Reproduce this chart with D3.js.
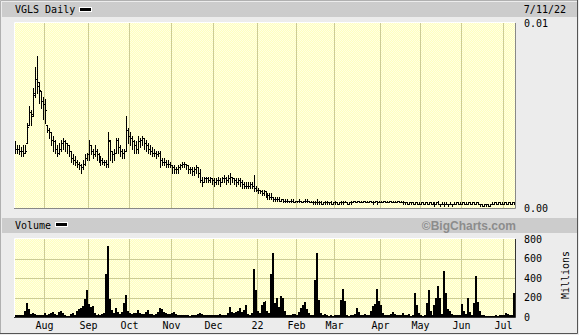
<!DOCTYPE html>
<html>
<head>
<meta charset="utf-8">
<title>VGLS Daily</title>
<script src="https://d3js.org/d3.v7.min.js"></script>
<style>
  body { margin: 0; background: #ffffff; }
  svg { display: block; font-family: "DejaVu Sans Mono", monospace; font-size: 10px; }
</style>
</head>
<body>
<svg id="chart" width="579" height="335"></svg>
<script>
// daily bars, dollars
var opens = [
  0.0031,0.0032,0.0032,0.0031,0.0031,0.0030,0.0035,0.0045,0.0052,0.0051,0.0062,0.0070,
  0.0066,0.0063,0.0058,0.0056,0.0045,0.0042,0.0041,0.0037,0.0036,0.0032,0.0030,0.0032,
  0.0035,0.0036,0.0035,0.0034,0.0031,0.0027,0.0026,0.0025,0.0024,0.0023,0.0022,0.0024,
  0.0027,0.0029,0.0034,0.0031,0.0029,0.0031,0.0029,0.0027,0.0026,0.0025,0.0025,0.0024,
  0.0036,0.0031,0.0029,0.0030,0.0037,0.0033,0.0031,0.0030,0.0031,0.0042,0.0039,0.0038,
  0.0036,0.0034,0.0032,0.0036,0.0037,0.0038,0.0035,0.0034,0.0032,0.0031,0.0030,0.0030,
  0.0029,0.0030,0.0026,0.0025,0.0025,0.0024,0.0024,0.0023,0.0022,0.0021,0.0021,0.0022,
  0.0023,0.0024,0.0024,0.0023,0.0021,0.0021,0.0020,0.0021,0.0022,0.0019,0.0015,0.0014,
  0.0016,0.0016,0.0015,0.0016,0.0015,0.0014,0.0015,0.0015,0.0014,0.0016,0.0016,0.0015,
  0.0016,0.0017,0.0016,0.0015,0.0014,0.0015,0.0014,0.0013,0.0012,0.0012,0.0012,0.0013,
  0.0012,0.0011,0.0010,0.0010,0.0009,0.0008,0.0009,0.0008,0.0007,0.0006,0.0006,0.0005,
  0.0005,0.0005,0.0004,0.0005,0.0004,0.0004,0.0004,0.0004,0.0004,0.0003,0.0004,0.0004,
  0.0004,0.0003,0.0004,0.0004,0.0004,0.0003,0.0003,0.0003,0.0003,0.0003,0.0003,0.0002,
  0.0003,0.0003,0.0003,0.0003,0.0002,0.0003,0.0003,0.0002,0.0003,0.0003,0.0003,0.0003,
  0.0002,0.0003,0.0003,0.0004,0.0003,0.0004,0.0003,0.0003,0.0004,0.0003,0.0003,0.0004,
  0.0003,0.0003,0.0004,0.0003,0.0003,0.0003,0.0004,0.0003,0.0003,0.0004,0.0003,0.0003,
  0.0003,0.0004,0.0003,0.0003,0.0003,0.0003,0.0002,0.0003,0.0003,0.0002,0.0003,0.0002,
  0.0002,0.0003,0.0002,0.0003,0.0002,0.0003,0.0002,0.0002,0.0002,0.0003,0.0002,0.0002,
  0.0002,0.0002,0.0002,0.0002,0.0002,0.0002,0.0002,0.0003,0.0002,0.0002,0.0003,0.0002,
  0.0002,0.0003,0.0002,0.0003,0.0002,0.0003,0.0002,0.0002,0.0001,0.0002,0.0002,0.0001,
  0.0002,0.0002,0.0003,0.0002,0.0003,0.0002,0.0002,0.0003,0.0002,0.0003,0.0002,0.0003
];
var highs = [
  0.0036,0.0034,0.0034,0.0033,0.0034,0.0034,0.0046,0.0055,0.0053,0.0065,0.0076,0.0082,
  0.0068,0.0063,0.0060,0.0059,0.0045,0.0043,0.0041,0.0039,0.0037,0.0034,0.0035,0.0037,
  0.0038,0.0037,0.0035,0.0034,0.0031,0.0029,0.0028,0.0026,0.0025,0.0024,0.0026,0.0029,
  0.0030,0.0037,0.0034,0.0032,0.0034,0.0032,0.0030,0.0028,0.0027,0.0026,0.0026,0.0041,
  0.0037,0.0031,0.0032,0.0038,0.0038,0.0034,0.0032,0.0032,0.0050,0.0043,0.0041,0.0039,
  0.0037,0.0036,0.0039,0.0038,0.0039,0.0038,0.0037,0.0035,0.0034,0.0033,0.0032,0.0031,
  0.0031,0.0031,0.0027,0.0027,0.0026,0.0026,0.0025,0.0023,0.0023,0.0022,0.0023,0.0024,
  0.0025,0.0025,0.0024,0.0023,0.0022,0.0022,0.0022,0.0023,0.0022,0.0021,0.0017,0.0017,
  0.0017,0.0017,0.0017,0.0016,0.0016,0.0016,0.0017,0.0016,0.0017,0.0018,0.0017,0.0018,
  0.0019,0.0017,0.0016,0.0016,0.0016,0.0016,0.0015,0.0014,0.0014,0.0014,0.0014,0.0014,
  0.0018,0.0012,0.0011,0.0010,0.0010,0.0010,0.0009,0.0008,0.0008,0.0008,0.0006,0.0006,
  0.0006,0.0006,0.0005,0.0005,0.0005,0.0005,0.0004,0.0005,0.0005,0.0004,0.0004,0.0005,
  0.0004,0.0004,0.0005,0.0005,0.0004,0.0004,0.0004,0.0004,0.0005,0.0004,0.0004,0.0003,
  0.0004,0.0004,0.0003,0.0004,0.0003,0.0004,0.0003,0.0003,0.0004,0.0004,0.0004,0.0003,
  0.0003,0.0004,0.0004,0.0004,0.0004,0.0004,0.0004,0.0004,0.0004,0.0004,0.0004,0.0004,
  0.0004,0.0004,0.0004,0.0004,0.0004,0.0004,0.0004,0.0004,0.0004,0.0004,0.0004,0.0004,
  0.0004,0.0004,0.0004,0.0004,0.0003,0.0003,0.0003,0.0003,0.0003,0.0003,0.0003,0.0003,
  0.0003,0.0003,0.0003,0.0003,0.0003,0.0003,0.0003,0.0003,0.0003,0.0004,0.0002,0.0003,
  0.0003,0.0003,0.0002,0.0003,0.0002,0.0003,0.0003,0.0003,0.0003,0.0003,0.0003,0.0003,
  0.0003,0.0003,0.0003,0.0003,0.0003,0.0003,0.0002,0.0002,0.0002,0.0002,0.0002,0.0002,
  0.0003,0.0003,0.0003,0.0003,0.0003,0.0003,0.0003,0.0003,0.0003,0.0003,0.0003,0.0003
];
var lows = [
  0.0030,0.0030,0.0029,0.0028,0.0028,0.0030,0.0035,0.0045,0.0045,0.0050,0.0060,0.0062,
  0.0057,0.0054,0.0048,0.0046,0.0041,0.0038,0.0034,0.0031,0.0030,0.0028,0.0029,0.0031,
  0.0032,0.0031,0.0030,0.0028,0.0025,0.0024,0.0023,0.0022,0.0021,0.0019,0.0021,0.0023,
  0.0026,0.0026,0.0029,0.0027,0.0028,0.0026,0.0025,0.0023,0.0024,0.0023,0.0022,0.0022,
  0.0026,0.0025,0.0026,0.0030,0.0030,0.0028,0.0027,0.0027,0.0031,0.0035,0.0034,0.0032,
  0.0030,0.0030,0.0030,0.0033,0.0034,0.0032,0.0031,0.0030,0.0029,0.0028,0.0028,0.0027,
  0.0028,0.0022,0.0023,0.0023,0.0022,0.0022,0.0022,0.0019,0.0019,0.0019,0.0019,0.0021,
  0.0022,0.0022,0.0021,0.0019,0.0019,0.0018,0.0018,0.0019,0.0017,0.0014,0.0012,0.0014,
  0.0014,0.0014,0.0014,0.0013,0.0012,0.0013,0.0013,0.0012,0.0014,0.0014,0.0013,0.0014,
  0.0013,0.0014,0.0013,0.0012,0.0013,0.0012,0.0011,0.0011,0.0011,0.0011,0.0011,0.0011,
  0.0009,0.0009,0.0008,0.0008,0.0007,0.0007,0.0006,0.0005,0.0005,0.0005,0.0004,0.0004,
  0.0004,0.0004,0.0004,0.0003,0.0003,0.0003,0.0003,0.0003,0.0003,0.0003,0.0003,0.0003,
  0.0003,0.0003,0.0003,0.0003,0.0003,0.0003,0.0002,0.0002,0.0002,0.0002,0.0002,0.0002,
  0.0002,0.0002,0.0002,0.0002,0.0002,0.0002,0.0002,0.0002,0.0002,0.0002,0.0003,0.0002,
  0.0002,0.0002,0.0003,0.0003,0.0003,0.0003,0.0003,0.0003,0.0003,0.0003,0.0003,0.0003,
  0.0002,0.0003,0.0002,0.0003,0.0003,0.0003,0.0003,0.0003,0.0003,0.0003,0.0003,0.0003,
  0.0003,0.0003,0.0003,0.0002,0.0002,0.0002,0.0002,0.0002,0.0002,0.0002,0.0002,0.0002,
  0.0002,0.0002,0.0002,0.0002,0.0002,0.0002,0.0002,0.0001,0.0002,0.0002,0.0001,0.0002,
  0.0001,0.0002,0.0001,0.0002,0.0001,0.0002,0.0002,0.0002,0.0002,0.0002,0.0002,0.0002,
  0.0002,0.0002,0.0002,0.0002,0.0002,0.0002,0.0001,0.0001,0.0001,0.0001,0.0001,0.0001,
  0.0002,0.0002,0.0002,0.0002,0.0002,0.0002,0.0002,0.0002,0.0002,0.0002,0.0002,0.0002
];
var closes = [
  0.0032,0.0032,0.0031,0.0031,0.0030,0.0031,0.0044,0.0052,0.0050,0.0061,0.0070,0.0068,
  0.0064,0.0058,0.0056,0.0053,0.0042,0.0041,0.0037,0.0036,0.0032,0.0030,0.0032,0.0035,
  0.0036,0.0035,0.0034,0.0031,0.0027,0.0026,0.0025,0.0024,0.0023,0.0022,0.0024,0.0027,
  0.0029,0.0034,0.0031,0.0029,0.0031,0.0029,0.0027,0.0026,0.0025,0.0025,0.0024,0.0037,
  0.0031,0.0029,0.0030,0.0037,0.0033,0.0031,0.0030,0.0031,0.0042,0.0039,0.0038,0.0036,
  0.0034,0.0032,0.0036,0.0037,0.0038,0.0035,0.0034,0.0032,0.0031,0.0030,0.0030,0.0029,
  0.0030,0.0026,0.0025,0.0025,0.0024,0.0024,0.0023,0.0022,0.0021,0.0021,0.0022,0.0023,
  0.0024,0.0024,0.0023,0.0021,0.0021,0.0020,0.0021,0.0022,0.0019,0.0015,0.0014,0.0016,
  0.0016,0.0015,0.0016,0.0015,0.0014,0.0015,0.0015,0.0014,0.0016,0.0016,0.0015,0.0016,
  0.0017,0.0016,0.0015,0.0014,0.0015,0.0014,0.0013,0.0012,0.0012,0.0012,0.0013,0.0012,
  0.0011,0.0010,0.0010,0.0009,0.0008,0.0009,0.0008,0.0007,0.0006,0.0006,0.0005,0.0005,
  0.0005,0.0004,0.0005,0.0004,0.0004,0.0004,0.0004,0.0004,0.0003,0.0004,0.0004,0.0004,
  0.0003,0.0004,0.0004,0.0004,0.0003,0.0003,0.0003,0.0003,0.0003,0.0003,0.0002,0.0003,
  0.0003,0.0003,0.0003,0.0002,0.0003,0.0003,0.0002,0.0003,0.0003,0.0003,0.0003,0.0002,
  0.0003,0.0003,0.0004,0.0003,0.0004,0.0003,0.0003,0.0004,0.0003,0.0003,0.0004,0.0003,
  0.0003,0.0004,0.0003,0.0003,0.0003,0.0004,0.0003,0.0003,0.0004,0.0003,0.0003,0.0003,
  0.0004,0.0003,0.0003,0.0003,0.0003,0.0002,0.0003,0.0003,0.0002,0.0003,0.0002,0.0002,
  0.0003,0.0002,0.0003,0.0002,0.0003,0.0002,0.0002,0.0002,0.0003,0.0002,0.0002,0.0002,
  0.0002,0.0002,0.0002,0.0002,0.0002,0.0002,0.0003,0.0002,0.0002,0.0003,0.0002,0.0002,
  0.0003,0.0002,0.0003,0.0002,0.0003,0.0002,0.0002,0.0001,0.0002,0.0002,0.0001,0.0002,
  0.0002,0.0003,0.0002,0.0003,0.0002,0.0002,0.0003,0.0002,0.0003,0.0002,0.0003,0.0003
];
// volume, millions of shares
var volumes = [
  22,20,18,22,25,60,147,80,35,38,30,25,
  25,22,25,45,22,30,40,55,35,25,50,65,
  40,22,15,12,30,45,25,60,80,90,115,185,
  277,130,100,115,40,25,30,22,30,40,440,730,
  180,70,40,90,50,35,55,145,225,60,45,35,
  40,45,75,40,30,35,50,70,35,30,25,35,
  50,90,80,50,45,35,30,45,48,30,22,25,
  20,22,18,20,15,20,25,22,30,45,30,22,
  20,25,22,18,22,20,25,30,22,20,25,40,
  100,55,45,50,60,90,55,70,125,30,25,40,
  490,280,60,45,120,150,165,60,40,445,660,145,
  195,100,215,200,60,25,20,22,35,30,20,50,
  90,120,157,80,40,22,20,380,660,175,40,25,
  30,20,15,20,15,22,18,20,175,287,160,25,
  15,20,22,30,90,50,25,22,30,20,25,60,
  110,130,287,160,120,40,25,20,22,30,55,35,
  22,20,25,40,22,20,30,15,22,245,120,40,
  20,15,22,145,277,60,22,120,200,320,200,30,
  470,245,80,60,30,20,25,22,20,135,60,30,
  195,50,22,140,420,150,60,25,20,15,12,15,
  12,15,18,15,20,18,22,40,35,22,25,250
];
var firstDay = "2021-07-12";
var holidays = ["2021-09-06", "2021-11-25", "2021-12-24", "2022-01-17", "2022-02-21",
                "2022-04-15", "2022-05-30", "2022-06-20", "2022-07-04"];
var monthLabels = ["Aug", "Sep", "Oct", "Nov", "Dec", "22", "Feb", "Mar", "Apr", "May", "Jun", "Jul"];
var priceTicks = [0, 0.01];
var volumeTicks = [0, 200, 400, 600, 800];

// trading calendar
var parse = d3.timeParse("%Y-%m-%d"), fmt = d3.timeFormat("%Y-%m-%d");
var dates = [];
var day = parse(firstDay);
while (dates.length < closes.length) {
    var wd = day.getDay();
    if (wd != 0 && wd != 6 && holidays.indexOf(fmt(day)) < 0) dates.push(new Date(day));
    day = d3.timeDay.offset(day, 1);
}
var monthStarts = [];
dates.forEach(function(d, i) {
    if (i > 0 && d.getMonth() != dates[i - 1].getMonth()) monthStarts.push(i);
});

var svg = d3.select("#chart");
var L = 14, R = 515, pT = 23, pB = 208, vT = 239, vB = 317;

var x = d3.scaleBand().domain(d3.range(dates.length)).range([L, R]);
var yP = d3.scaleLinear().domain([0, 0.01]).range([pB, pT]);
var yV = d3.scaleLinear().domain([0, 800]).range([vB, vT]);
function px(i) { return Math.round(x(i)); }

var defs = svg.append("defs");
var pat = defs.append("pattern").attr("id", "dither")
    .attr("width", 2).attr("height", 2).attr("patternUnits", "userSpaceOnUse");
pat.append("rect").attr("width", 2).attr("height", 2).attr("fill", "#ffffbe");
pat.append("rect").attr("width", 1).attr("height", 1).attr("fill", "#ffffe4");
pat.append("rect").attr("x", 1).attr("y", 1).attr("width", 1).attr("height", 1).attr("fill", "#ffffe4");

// frame
svg.append("rect").attr("width", 579).attr("height", 335).attr("fill", "#ececec");
svg.append("path").attr("d", "M0.5,334V0.5H578").attr("fill", "none").attr("stroke", "#b0b0b0");
svg.append("path").attr("d", "M577.5,0V333.5H0").attr("fill", "none").attr("stroke", "#555");

// header bars
svg.append("rect").attr("x", 2).attr("y", 2).attr("width", 575).attr("height", 15).attr("fill", "#cccccc");
svg.append("rect").attr("x", 2).attr("y", 218).attr("width", 575).attr("height", 15).attr("fill", "#cccccc");

svg.append("text").attr("x", 15).attr("y", 13).text("VGLS Daily");
svg.append("rect").attr("x", 79.5).attr("y", 7.5).attr("width", 12).attr("height", 4)
    .attr("fill", "#000").attr("stroke", "#fff");
svg.append("text").attr("x", 566).attr("y", 13).attr("text-anchor", "end")
    .text(d3.timeFormat("%-m/%-d/%y")(dates[dates.length - 1]));

svg.append("text").attr("x", 15).attr("y", 229).text("Volume");
svg.append("rect").attr("x", 55.5).attr("y", 222.5).attr("width", 12).attr("height", 4)
    .attr("fill", "#000").attr("stroke", "#fff");
svg.append("text").attr("x", 516).attr("y", 229.5).attr("text-anchor", "end")
    .style("font-family", "'Liberation Sans', Arial, sans-serif").style("font-weight", "bold")
    .style("font-size", "12px").attr("fill", "#8c8c8c").text("\u00A9BigCharts.com");

// plot areas
svg.append("rect").attr("x", L).attr("y", pT).attr("width", R - L).attr("height", pB - pT).attr("fill", "url(#dither)");
svg.append("rect").attr("x", L).attr("y", vT).attr("width", R - L).attr("height", vB - vT).attr("fill", "url(#dither)");

var grid = svg.append("g").attr("stroke", "#cccc96").attr("shape-rendering", "crispEdges");
monthStarts.forEach(function(i) {
    grid.append("line").attr("x1", px(i) + 0.5).attr("x2", px(i) + 0.5).attr("y1", pT).attr("y2", pB);
    grid.append("line").attr("x1", px(i) + 0.5).attr("x2", px(i) + 0.5).attr("y1", vT).attr("y2", vB);
});
volumeTicks.slice(1, -1).forEach(function(v) {
    var yy = Math.round(yV(v)) + 0.5;
    grid.append("line").attr("x1", L).attr("x2", R).attr("y1", yy).attr("y2", yy);
});

// price bars
var bars = svg.append("g").attr("fill", "#000").attr("shape-rendering", "crispEdges");
closes.forEach(function(c, i) {
    var x0 = px(i);
    var yh = Math.round(yP(highs[i])), yl = Math.round(yP(lows[i]));
    bars.append("rect").attr("x", x0 + 1).attr("y", yh).attr("width", 1).attr("height", yl - yh + 1);
    bars.append("rect").attr("x", x0).attr("y", Math.round(yP(opens[i]))).attr("width", 1).attr("height", 1);
    bars.append("rect").attr("x", x0 + 2).attr("y", Math.round(yP(c))).attr("width", 1).attr("height", 1);
});

// volume bars
svg.append("g").attr("shape-rendering", "crispEdges").selectAll("rect")
    .data(volumes).enter().append("rect")
    .attr("x", function(d, i) { return px(i); })
    .attr("width", function(d, i) { return Math.round(x(i) + x.bandwidth()) - px(i); })
    .attr("y", function(d) { return Math.round(yV(d)); })
    .attr("height", function(d) { return vB - Math.round(yV(d)); })
    .attr("fill", "#000");

// plot borders
[[pT, pB, "#888888"], [vT, vB, "#333333"]].forEach(function(p) {
    svg.append("path").attr("d", "M" + (L + 0.5) + "," + p[1] + "V" + (p[0] - 0.5) + "H" + R)
        .attr("fill", "none").attr("stroke", "#ffffff");
    svg.append("path").attr("d", "M" + L + "," + (p[1] + 0.5) + "H" + (R + 0.5) + "V" + p[0])
        .attr("fill", "none").attr("stroke", p[2]);
});

// right labels
priceTicks.forEach(function(v) {
    svg.append("text").attr("x", 524).attr("y", yP(v) + 3.5).text(d3.format(".2f")(v));
});
volumeTicks.forEach(function(v) {
    svg.append("text").attr("x", 524).attr("y", yV(v) + 3.5).text(v);
});
svg.append("text").attr("transform", "translate(569,275) rotate(-90)")
    .attr("text-anchor", "middle").text("Millions");

// month labels
monthStarts.forEach(function(i, k) {
    svg.append("text").attr("x", px(i) + 0.5).attr("y", 329).attr("text-anchor", "middle").text(monthLabels[k]);
});
</script>
</body>
</html>
